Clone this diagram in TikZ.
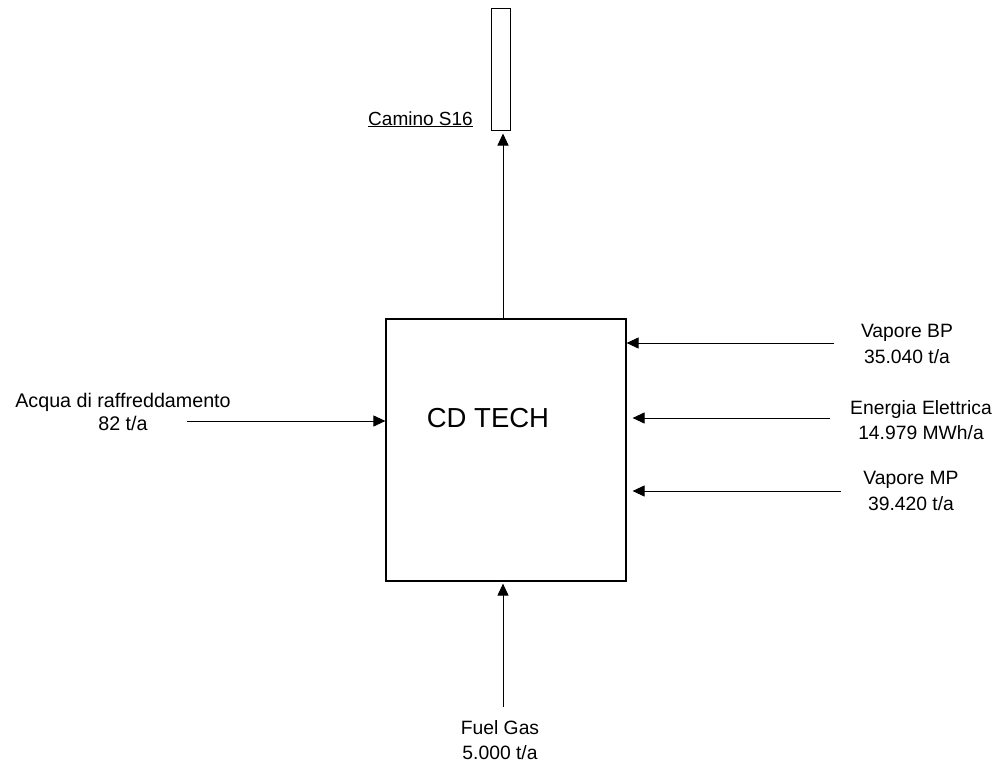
\documentclass[tikz,border=0pt]{standalone}
\usepackage{fontspec}
\setmainfont{Liberation Sans}
\usetikzlibrary{arrows.meta}
\begin{document}
\begin{tikzpicture}[x=1pt,y=-1pt,
  flow/.style={line width=1pt,-{Triangle[length=12pt,width=11pt]}},
  lbl/.style={align=center,inner sep=0pt,font=\fontsize{19.3}{25.5}\selectfont},
  unit/.style={draw,line width=1.2pt,inner sep=0pt}]
\useasboundingbox (0,0) rectangle (999,766);
\fill[white] (0,0) rectangle (999,766);
% main unit
\node[unit,minimum width=240pt,minimum height=262pt] (box) at (506,450) {};
\node[inner sep=0pt,font=\fontsize{27.5}{30}\selectfont] (title) at (488,418) {CD TECH};
% stack
\node[unit,line width=1pt,minimum width=19pt,minimum height=122pt] (stack) at (501,69) {};
\node[inner sep=0pt,font=\fontsize{19}{22}\selectfont,anchor=base east] (camino) at (473,125) {\underline{Camino S16}};
\coordinate (tx) at (503,0);
\draw[flow,shorten >=3pt] (box.north -| tx) -- (stack.south -| tx);
% right inputs
\node[lbl] (bp) at (907,344) {Vapore BP\\35.040 t/a};
\node[lbl] (ee) at (921,420) {Energia Elettrica\\14.979 MWh/a};
\node[lbl] (mp) at (911,491) {Vapore MP\\39.420 t/a};
\coordinate (bps) at (834,343);
\coordinate (ees) at (830,418);
\coordinate (mps) at (841,491);
\draw[flow] (bps) -- (bps -| box.east);
\draw[flow,shorten >=6pt] (ees) -- (ees -| box.east);
\draw[flow,shorten >=6pt] (mps) -- (mps -| box.east);
% left input
\node[lbl,font=\fontsize{19.7}{23}\selectfont] (acq) at (123,412) {Acqua di raffreddamento\\82 t/a};
\coordinate (acs) at (187,421);
\draw[flow] (acs) -- (acs -| box.west);
% bottom input
\node[lbl] (fg) at (500,740) {Fuel Gas\\5.000 t/a};
\coordinate (fgs) at (503,707);
\draw[flow,shorten >=2pt] (fgs) -- (fgs |- box.south);
\end{tikzpicture}
\end{document}
